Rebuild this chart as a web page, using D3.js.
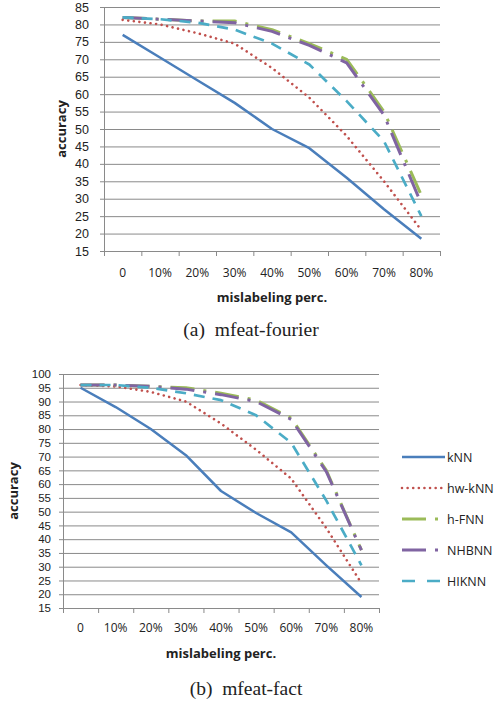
<!DOCTYPE html>
<html><head><meta charset="utf-8">
<script src="https://cdn.jsdelivr.net/npm/d3@7"></script>
<style>
body{margin:0;background:#fff;}
svg{display:block;}
text{font-family:"Open Sans",sans-serif;fill:#222;}
</style></head>
<body>
<svg id="c" width="503" height="704"></svg>
<script>
const categories = ["0","10%","20%","30%","40%","50%","60%","70%","80%"];
const seriesNames = ["kNN","hw-kNN","h-FNN","NHBNN","HIKNN"];
const seriesColors = ["#4A7EBB","#C0504D","#9BBB59","#8064A2","#4BACC6"];

// (a) mfeat-fourier
const fourierKNN    = [77, 70.5, 64, 57.5, 50, 44.5, 36, 27, 18.5];
const fourierHwKNN  = [81.3, 80, 77.5, 74.5, 67.5, 59, 48, 35, 21];
const fourierHFNN   = [82, 81.5, 81, 81, 78.5, 74.5, 70, 55, 31];
const fourierNHBNN  = [82, 81.5, 81, 80.5, 78, 74, 69, 54, 28.5];
const fourierHIKNN  = [82, 81.5, 80.5, 78.5, 74.5, 68.5, 58, 46.5, 25];
const fourierTicks  = [15,20,25,30,35,40,45,50,55,60,65,70,75,80,85];

// (b) mfeat-fact
const factKNN   = [95, 88, 80, 70.5, 57.5, 49.5, 42.5, 30.5, 19];
const factHwKNN = [96, 95.5, 93.5, 90, 82, 72.5, 62, 44, 24];
const factHFNN  = [96, 96, 95.5, 95, 93, 90.5, 84, 65, 36];
const factNHBNN = [96, 96, 95.5, 94.5, 92.5, 90, 83.5, 64.5, 36];
const factHIKNN = [96, 96, 95, 93, 90.5, 85, 75, 54, 30.5];
const factTicks = [15,20,25,30,35,40,45,50,55,60,65,70,75,80,85,90,95,100];

const styles = [
  {w:2.5, dash:null, cap:"butt"},
  {w:2.6, dash:"0.01,5.6", cap:"round"},
  {w:3, dash:"24,9,3,9", cap:"butt"},
  {w:3, dash:"24,9,3,9", cap:"butt"},
  {w:2.7, dash:"11,8", cap:"butt"}
];

const svg = d3.select("#c");
const grid = "#8a8a8a";
const tickFont = '"Liberation Sans",Arial,sans-serif';

function drawChart(cfg) {
  const g = svg.append("g");
  const x = d3.scaleBand().domain(categories).range([cfg.x0, cfg.x1]).padding(0);
  const y = d3.scaleLinear().domain([cfg.ticks[0], cfg.ticks[cfg.ticks.length-1]]).range([cfg.yb, cfg.yt]);

  // gridlines
  const gg = g.append("g").attr("transform", `translate(${cfg.x0},0)`)
    .call(d3.axisLeft(y).tickValues(cfg.ticks).tickSize(-(cfg.x1-cfg.x0)).tickFormat(""));
  gg.select(".domain").remove();
  gg.selectAll("line").attr("stroke", grid).attr("stroke-width", 1);

  // y axis with labels
  const ya = g.append("g").attr("transform", `translate(${cfg.x0},0)`)
    .call(d3.axisLeft(y).tickValues(cfg.ticks).tickSize(4).tickPadding(cfg.ypad));
  ya.select(".domain").attr("stroke", grid);
  ya.selectAll("line").attr("stroke", grid);
  ya.selectAll("text").style("font-size", cfg.yfs + "px").style("font-family", tickFont).attr("fill", "#222");

  // x boundary ticks
  const xb = d3.scaleLinear().domain([0, categories.length]).range([cfg.x0, cfg.x1]);
  const xt = g.append("g").attr("transform", `translate(0,${cfg.yb})`)
    .call(d3.axisBottom(xb).tickValues(d3.range(categories.length+1)).tickSize(5).tickFormat(""));
  xt.select(".domain").attr("stroke", grid);
  xt.selectAll("line").attr("stroke", grid);

  // x labels
  const xl = g.append("g").attr("transform", `translate(0,${cfg.yb})`)
    .call(d3.axisBottom(x).tickSize(0).tickPadding(cfg.xpad));
  xl.select(".domain").remove();
  xl.selectAll("text").style("font-size", "12px").style("font-family", '"Open Sans",sans-serif').attr("fill", "#222");

  // series
  const line = d3.line().x((d,i) => x(categories[i]) + x.bandwidth()/2).y(d => y(d));
  cfg.series.forEach((s, k) => {
    g.append("path").datum(s).attr("d", line)
      .attr("fill", "none").attr("stroke", seriesColors[k])
      .attr("stroke-width", styles[k].w)
      .attr("stroke-dasharray", styles[k].dash)
      .attr("stroke-linecap", styles[k].cap)
      .attr("stroke-linejoin", "round");
  });

  // axis titles
  g.append("text").attr("transform", `translate(${cfg.ylabX},${(cfg.yt+cfg.yb)/2}) rotate(-90)`)
    .attr("text-anchor", "middle").attr("dominant-baseline", "central")
    .style("font-size", "13px").style("font-weight", "bold").text("accuracy");
  g.append("text").attr("x", (cfg.x0+cfg.x1)/2).attr("y", cfg.xtitleY)
    .attr("text-anchor", "middle").style("font-size", "13px").style("font-weight", "bold")
    .text("mislabeling perc.");
  g.append("text").attr("x", cfg.capX).attr("y", cfg.capY)
    .attr("text-anchor", "middle").style("font-family", '"Liberation Serif","Times New Roman",serif')
    .style("font-size", "19.5px").attr("xml:space", "preserve").style("white-space", "pre")
    .text(cfg.caption);
  return {x, y};
}

drawChart({
  x0:104, x1:440, yt:7, yb:251, ticks:fourierTicks, yfs:12.5, ypad:11, xpad:17,
  series:[fourierKNN, fourierHwKNN, fourierHFNN, fourierNHBNN, fourierHIKNN],
  ylabX:61, xtitleY:302, capX:251, capY:336, caption:"(a)  mfeat-fourier"
});
drawChart({
  x0:63, x1:379, yt:374, yb:608, ticks:factTicks, yfs:11.5, ypad:8, xpad:15.5,
  series:[factKNN, factHwKNN, factHFNN, factNHBNN, factHIKNN],
  ylabX:13, xtitleY:658, capX:246, capY:695, caption:"(b)  mfeat-fact"
});

// legend for (b)
const lg = svg.append("g");
const ly = d3.scaleLinear().domain([0, 4]).range([457, 581]);
seriesNames.forEach((n, k) => {
  lg.append("path").attr("d", d3.line()([[402, ly(k)], [445, ly(k)]]))
    .attr("stroke", seriesColors[k]).attr("stroke-width", styles[k].w)
    .attr("stroke-dasharray", k === 4 ? "13,12" : styles[k].dash)
    .attr("stroke-linecap", styles[k].cap).attr("fill", "none");
  lg.append("text").attr("x", 447).attr("y", ly(k)).attr("dominant-baseline", "central")
    .style("font-size", "12.5px").text(n);
});
</script>
</body></html>
